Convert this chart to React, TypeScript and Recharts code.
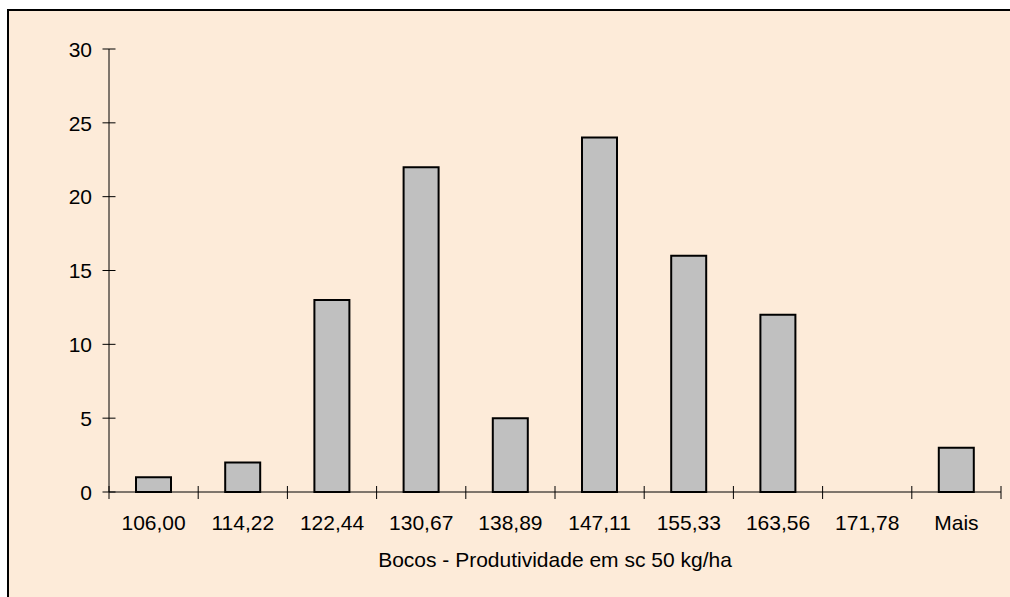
import { Bar, BarChart, Label, XAxis, YAxis } from 'recharts'

const classes = ['106,00', '114,22', '122,44', '130,67', '138,89', '147,11', '155,33', '163,56', '171,78', 'Mais']
const frequency = [1, 2, 13, 22, 5, 24, 16, 12, 0, 3]
const yTicks = [0, 5, 10, 15, 20, 25, 30]

const CHART_W = 1001
const CHART_H = 586
const PLOT_LEFT = 100
const PLOT_RIGHT = 992
const HALF_BAND = (PLOT_RIGHT - PLOT_LEFT) / classes.length / 2
const FONT = '"Liberation Sans", Arial, sans-serif'

const data = classes.map((name, idx) => ({ name, freq: frequency[idx] }))

// tick marks cross the axis, like the spreadsheet original
const YTick = ({ x, y, payload }: any) => (
  <g>
    <line x1={x - 6.5} x2={x + 6.5} y1={y} y2={y} stroke="#000" />
    <text x={x - 17} y={y + 7.7} textAnchor="end" fontSize={21} fontFamily={FONT} fill="#000">
      {payload.value}
    </text>
  </g>
)

const XTick = ({ x, y, payload, index }: any) => {
  const half = payload.offset || HALF_BAND
  return (
    <g>
      <line x1={x - half} x2={x - half} y1={y - 6} y2={y + 7} stroke="#000" />
      {index === classes.length - 1 && (
        <line x1={x + half} x2={x + half} y1={y - 6} y2={y + 7} stroke="#000" />
      )}
      <text x={x} y={y + 38} textAnchor="middle" fontSize={21} fontFamily={FONT} fill="#000">
        {payload.value}
      </text>
    </g>
  )
}

export default function App() {
  return (
    <div
      style={{
        position: 'absolute',
        left: 7,
        top: 9,
        width: CHART_W,
        height: CHART_H,
        overflow: 'hidden',
        background: '#FDEBD9',
        borderLeft: '2px solid #000',
        borderTop: '2px solid #000',
      }}
    >
      <BarChart
        width={CHART_W}
        height={CHART_H}
        data={data}
        margin={{ top: 38, right: CHART_W - PLOT_RIGHT, left: 0, bottom: 25 }}
      >
        <YAxis
          domain={[0, 30]}
          ticks={yTicks}
          width={PLOT_LEFT}
          tickSize={0}
          tickMargin={0}
          tickLine={false}
          axisLine={{ stroke: '#000' }}
          tick={<YTick />}
          interval={0}
        />
        <XAxis
          dataKey="name"
          height={80}
          tickSize={0}
          tickMargin={0}
          tickLine={false}
          axisLine={{ stroke: '#000' }}
          tick={<XTick />}
          interval={0}
        >
          <Label
            value="Bocos - Produtividade em sc 50 kg/ha"
            position="insideBottom"
            offset={5}
            fontSize={21}
            fontFamily={FONT}
            fill="#000"
          />
        </XAxis>
        <Bar dataKey="freq" barSize={35} fill="#C0C0C0" stroke="#000" strokeWidth={2} isAnimationActive={false} />
      </BarChart>
    </div>
  )
}
